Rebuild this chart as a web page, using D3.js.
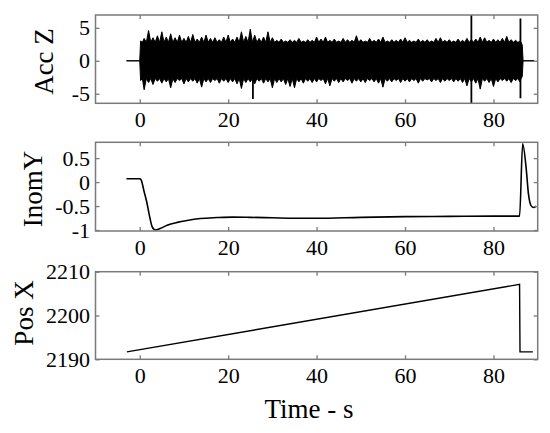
<!DOCTYPE html>
<html>
<head>
<meta charset="utf-8">
<script src="https://cdn.jsdelivr.net/npm/d3@7"></script>
<style>
  body { margin: 0; background: #fff; }
  svg { display: block; }
  text { font-family: "Liberation Serif", "DejaVu Serif", serif; fill: #000; }
</style>
</head>
<body>
<div id="chart"></div>
<script>
// x ticks shared by all panels
const timeTicks = [0, 20, 40, 60, 80];

// Acc Z: peak envelope of the vibration signal, read per second off the picture
const accTime = [-3, 0, 0.2, 1, 2, 3, 4, 5, 6, 7, 8, 9, 10, 11, 12, 13, 14, 15, 16, 17, 18, 19, 20,
  21, 22, 23, 24, 25, 26, 27, 28, 29, 30, 31, 32, 33, 34, 35, 36, 37, 38, 39, 40,
  41, 42, 43, 44, 45, 46, 47, 48, 49, 50, 51, 52, 53, 54, 55, 56, 57, 58, 59, 60,
  61, 62, 63, 64, 65, 66, 67, 68, 69, 70, 71, 72, 73, 74, 75, 76, 77, 78, 79, 80,
  81, 82, 83, 84, 85, 86, 86.5, 86.7, 89.2];
const accHigh = [0, 0, 3.0, 3.4, 4.6, 3.5, 3.8, 4.4, 3.6, 4.1, 3.5, 3.9, 3.4, 3.7, 4.0, 3.3, 3.6, 3.9, 3.4, 3.5, 3.2, 3.6, 3.9,
  3.3, 3.6, 4.4, 3.7, 4.8, 3.9, 3.4, 3.6, 4.4, 3.5, 3.1, 3.3, 3.0, 3.2, 3.1, 3.4, 3.0, 3.2, 3.1, 3.6,
  3.3, 3.6, 3.1, 3.3, 3.0, 3.4, 3.2, 3.1, 3.8, 3.2, 3.0, 3.4, 3.1, 3.3, 3.6, 3.0, 3.2, 3.1, 3.3, 3.5,
  3.1, 3.0, 3.3, 3.1, 3.2, 3.0, 3.4, 3.5, 3.1, 3.2, 3.0, 3.3, 3.1, 3.4, 3.2, 3.3, 3.6, 3.5, 3.1, 3.3,
  3.2, 3.4, 3.7, 3.2, 3.1, 3.0, 2.4, 0, 0];
const accLow = [0, 0, -3.0, -4.4, -3.3, -3.6, -3.1, -3.4, -3.2, -4.1, -3.3, -3.0, -3.5, -3.2, -3.1, -3.4, -4.0, -3.2, -3.3, -3.0, -3.4, -3.1, -3.3,
  -3.2, -3.5, -4.2, -3.3, -3.2, -3.5, -3.1, -3.4, -3.2, -4.1, -3.3, -3.2, -3.6, -3.9, -4.1, -3.2, -3.4, -3.1, -3.3, -3.2,
  -3.0, -3.5, -3.8, -3.1, -3.3, -3.2, -3.0, -3.4, -3.1, -3.2, -3.3, -3.0, -3.2, -3.4, -4.0, -3.1, -3.2, -3.0, -3.3, -3.1,
  -3.2, -3.0, -3.4, -3.1, -2.9, -3.2, -3.0, -3.3, -3.1, -3.0, -3.2, -3.1, -3.3, -3.8, -3.2, -3.4, -4.3, -3.1, -3.3, -3.9,
  -3.2, -3.0, -3.1, -3.3, -3.0, -3.2, -2.4, 0, 0];
// solid core of the band, between the peaks
const accCoreHigh = 2.8;
const accCoreLow = -2.7;
// isolated spikes in Acc Z
const spikeTime = [25.6, 75, 86.1];
const spikeHigh = [0, 8, 6.4];
const spikeLow = [-5.8, -8, -5.7];
const accTicks = [-5, 0, 5];

// InomY
const inomTime = [-3, 0, 0.3, 1, 1.6, 2.2, 2.8, 3.5, 4.6, 6.2, 8.5, 10.7, 13.7, 17.5, 21, 25, 30, 35, 40, 50, 60, 70, 80, 85.9,
  86.6, 87.4, 87.9, 88.5, 89.1, 89.6];
const inomValue = [0.07, 0.07, 0.05, -0.2, -0.42, -0.7, -0.93, -1.0, -0.97, -0.9, -0.84, -0.8, -0.76, -0.74, -0.73, -0.735, -0.745, -0.755, -0.755, -0.735, -0.72, -0.715, -0.71, -0.71,
  0.8, 0.28, -0.24, -0.49, -0.53, -0.5];
const inomTicks = [-1, -0.5, 0, 0.5];

// Pos X
const posTime = [-2.9, 85.9, 86.0, 88.9];
const posValue = [2191.7, 2207.1, 2191.7, 2191.7];
const posTicks = [2190, 2200, 2210];

const W = 550, H = 433;
const plotLeft = 95.5, plotRight = 537.7;
const frameColor = "#7a7a7a";

const svg = d3.select("#chart").append("svg").attr("width", W).attr("height", H);

const x = d3.scaleLinear().domain([-10, 90]).range([plotLeft, plotRight]);

const panels = [
  { id: "acc", y0: 15, y1: 103.3, domain: [-6.45, 6.95], ticks: accTicks, label: "Acc Z", lx: 53, ly: 61.5 },
  { id: "inom", y0: 142.3, y1: 231, domain: [-1.02, 0.83], ticks: inomTicks, label: "InomY", lx: 41.7, ly: 189 },
  { id: "pos", y0: 271.7, y1: 359.3, domain: [2190, 2210], ticks: posTicks, label: "Pos X", lx: 33.3, ly: 313 }
];

const fmt = d => String(d);

panels.forEach(p => {
  p.y = d3.scaleLinear().domain(p.domain).range([p.y1, p.y0]);

  svg.append("clipPath").attr("id", "clip-" + p.id)
    .append("rect").attr("x", plotLeft).attr("y", p.y0)
    .attr("width", plotRight - plotLeft).attr("height", p.y1 - p.y0);

  p.plot = svg.append("g").attr("clip-path", `url(#clip-${p.id})`);

  // axes: inward ticks on all four sides
  const axes = [
    svg.append("g").attr("transform", `translate(0,${p.y1})`)
      .call(d3.axisBottom(x).tickValues(timeTicks).tickSizeInner(-4).tickSizeOuter(0).tickPadding(8).tickFormat(fmt)),
    svg.append("g").attr("transform", `translate(0,${p.y0})`)
      .call(d3.axisTop(x).tickValues(timeTicks).tickSizeInner(-4).tickSizeOuter(0).tickFormat("")),
    svg.append("g").attr("transform", `translate(${plotLeft},0)`)
      .call(d3.axisLeft(p.y).tickValues(p.ticks).tickSizeInner(-4).tickSizeOuter(0).tickPadding(5.5).tickFormat(fmt)),
    svg.append("g").attr("transform", `translate(${plotRight},0)`)
      .call(d3.axisRight(p.y).tickValues(p.ticks).tickSizeInner(-4).tickSizeOuter(0).tickFormat(""))
  ];
  axes.forEach(a => {
    a.select(".domain").remove();
    a.selectAll(".tick line").attr("stroke", frameColor).attr("stroke-width", 1.3);
    a.selectAll(".tick text").attr("font-size", 22).attr("fill", "#000")
      .attr("font-family", "'Liberation Serif', 'DejaVu Serif', serif");
  });

  svg.append("rect")
    .attr("x", plotLeft).attr("y", p.y0)
    .attr("width", plotRight - plotLeft).attr("height", p.y1 - p.y0)
    .attr("fill", "none").attr("stroke", frameColor).attr("stroke-width", 1.5);

  svg.append("text")
    .attr("transform", `translate(${p.lx},${p.ly}) rotate(-90)`)
    .attr("text-anchor", "middle")
    .attr("font-size", 27)
    .text(p.label);
});

// Acc Z band: each peak is joined to the next one through the solid core,
// which gives the spiky edge of a dense trace
const accY = panels[0].y;
const accData = accTime.map((t, i) => ({ t, hi: accHigh[i], lo: accLow[i] }));

function edgePoints(key, core) {
  const pts = [];
  accData.forEach((d, i) => {
    const prev = accData[i - 1];
    if (prev && prev[key] !== 0 && d[key] !== 0) {
      pts.push([(x(prev.t) + x(d.t)) / 2, accY(core)]);
    }
    pts.push([x(d.t), accY(d[key])]);
  });
  return pts;
}
const bandPts = edgePoints("hi", accCoreHigh).concat(edgePoints("lo", accCoreLow).reverse());

panels[0].plot.append("path")
  .attr("d", d3.line()(bandPts) + "Z")
  .attr("fill", "#000")
  .attr("stroke", "#000")
  .attr("stroke-width", 1)
  .attr("stroke-linejoin", "round");

panels[0].plot.selectAll("line.spike")
  .data(spikeTime.map((t, i) => ({ t, hi: spikeHigh[i], lo: spikeLow[i] })))
  .join("line")
  .attr("class", "spike")
  .attr("x1", d => x(d.t)).attr("x2", d => x(d.t))
  .attr("y1", d => accY(d.hi)).attr("y2", d => accY(d.lo))
  .attr("stroke", "#000").attr("stroke-width", 1.8);

// InomY
const inomY = panels[1].y;
panels[1].plot.append("path")
  .datum(inomTime.map((t, i) => ({ t, v: inomValue[i] })))
  .attr("fill", "none")
  .attr("stroke", "#000")
  .attr("stroke-width", 1.6)
  .attr("d", d3.line().x(d => x(d.t)).y(d => inomY(d.v)).curve(d3.curveMonotoneX));

// Pos X
const posY = panels[2].y;
panels[2].plot.append("path")
  .datum(posTime.map((t, i) => ({ t, v: posValue[i] })))
  .attr("fill", "none")
  .attr("stroke", "#000")
  .attr("stroke-width", 1.4)
  .attr("d", d3.line().x(d => x(d.t)).y(d => posY(d.v)));

svg.append("text")
  .attr("x", 309).attr("y", 418)
  .attr("text-anchor", "middle")
  .attr("font-size", 27)
  .text("Time - s");
</script>
</body>
</html>
